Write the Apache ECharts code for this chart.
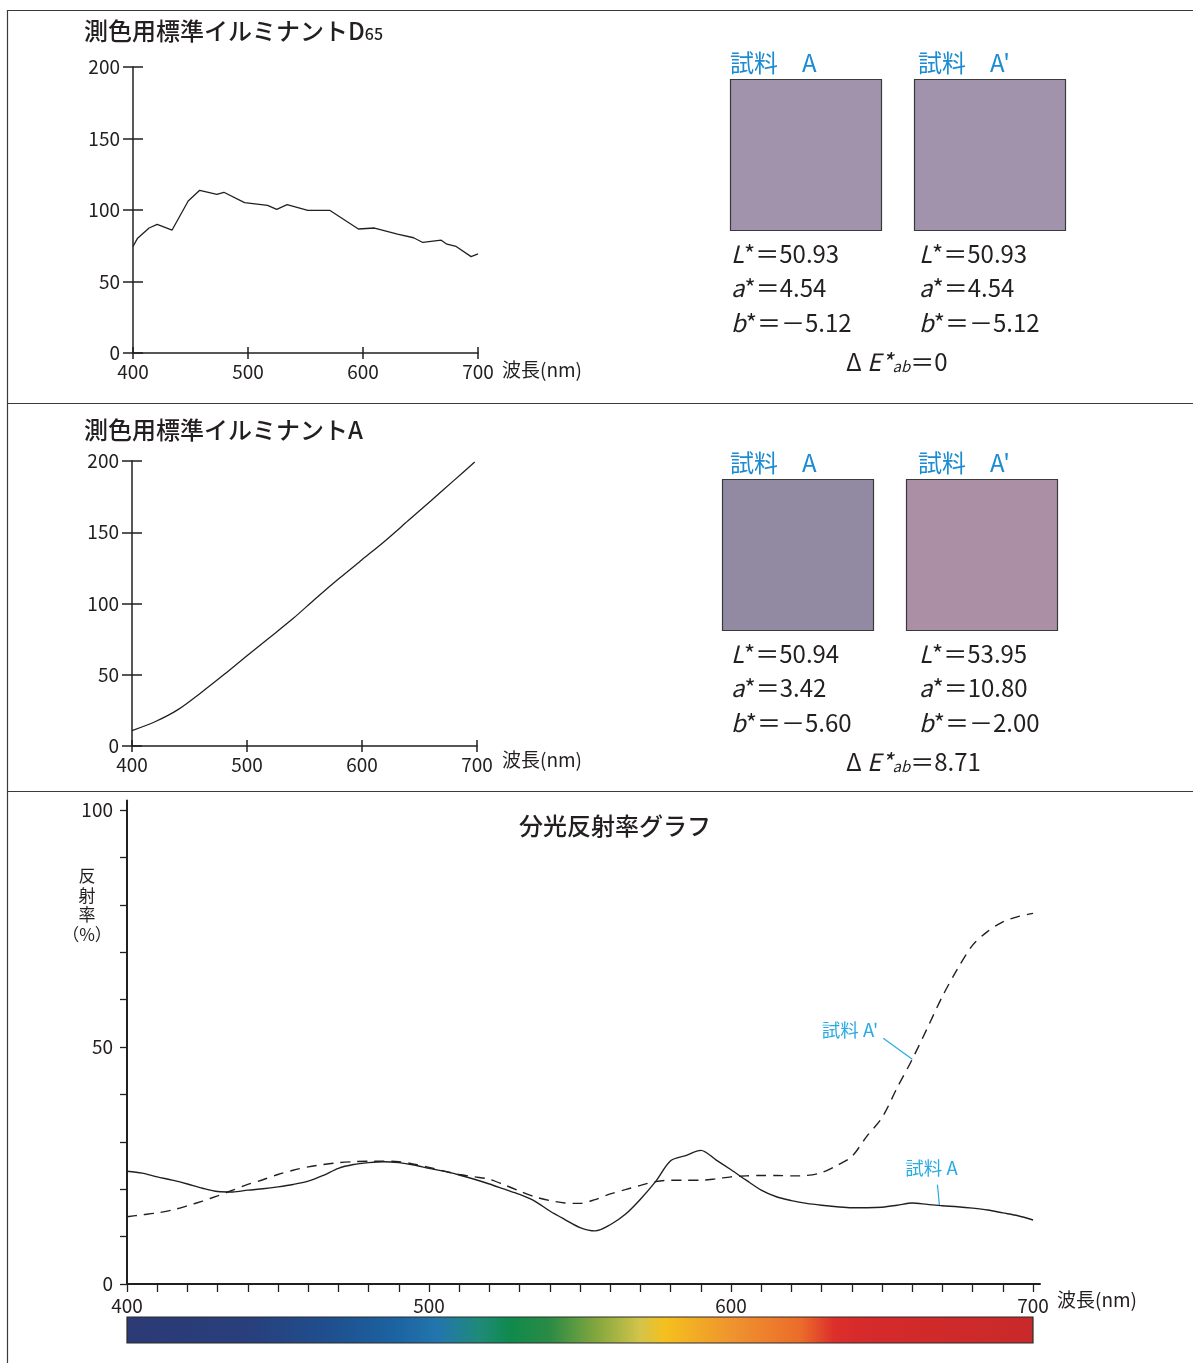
<!DOCTYPE html>
<html>
<head>
<meta charset="utf-8">
<script src="https://cdn.jsdelivr.net/npm/echarts@6/dist/echarts.min.js"></script>
<style>
  html, body { margin: 0; padding: 0; background: #fff; }
  #c { width: 1193px; height: 1363px; }
</style>
</head>
<body>
<div id="c"></div>
<script>
// 測色用標準イルミナント D65 の相対分光分布 [波長(nm), 相対値]
const d65Spd = [[400,74.5],[404,80.3],[414,87.4],[421,89.9],[434,86.0],[448,106.3],[458,113.8],[473,111.0],[479,112.4],[497,105.2],[517,103.3],[525,100.5],[534,103.7],[552,99.8],[571,99.8],[596,86.7],[610,87.4],[630,83.1],[644,80.6],[652,77.3],[668,78.9],[673,76.1],[681,74.5],[694,67.4],[700,69.3]];

// 測色用標準イルミナント A の相対分光分布
const illumASpd = [[400,10.8],[420,17.0],[440,25.5],[460,37.4],[480,50.1],[500,63.4],[520,76.3],[540,89.4],[560,103.7],[580,117.5],[600,130.7],[620,143.9],[640,158.0],[660,172.1],[680,186.4],[698,199.3]];

// 分光反射率 (%) : 5 nm 刻み
const wavelengths = [400,405,410,415,420,425,430,435,440,445,450,455,460,465,470,475,480,485,490,495,500,505,510,515,520,525,530,535,540,545,550,555,560,565,570,575,580,585,590,595,600,605,610,615,620,625,630,635,640,645,650,655,660,665,670,675,680,685,690,695,700];
const reflSampleA = [23.8,23.4,22.6,21.9,21.1,20.2,19.5,19.4,19.8,20.1,20.5,21.0,21.7,22.9,24.4,25.2,25.6,25.8,25.6,25.1,24.4,23.8,23.0,22.1,21.1,20.0,18.9,17.5,15.4,13.6,11.9,11.2,12.5,14.7,17.9,21.6,26.0,27.1,28.2,26.2,24.1,21.9,19.8,18.4,17.6,17.0,16.6,16.3,16.1,16.1,16.2,16.6,17.1,16.8,16.5,16.3,16.0,15.6,15.0,14.4,13.5];
const reflSampleA2 = [14.2,14.6,15.0,15.6,16.5,17.5,18.6,19.8,21.0,22.0,23.1,24.0,24.7,25.2,25.6,25.8,25.9,25.9,25.8,25.3,24.6,23.8,23.1,22.6,22.1,20.9,19.6,18.4,17.6,17.1,17.0,17.8,19.0,19.9,20.8,21.6,21.9,21.9,21.9,22.2,22.6,22.8,22.9,22.9,22.8,22.9,23.5,25.0,26.9,31.2,35.1,41.4,47.4,54.0,60.7,66.5,71.5,74.4,76.4,77.5,78.2];

// 軸の目盛り
const illumXTicks = [400,500,600,700];
const illumYTicks = [0,50,100,150,200];
const reflXTicks = [400,410,420,430,440,450,460,470,480,490,500,510,520,530,540,550,560,570,580,590,600,610,620,630,640,650,660,670,680,690,700];
const reflXLabels = [400,500,600,700];
const reflYTicks = [0,10,20,30,40,50,60,70,80,90,100];
const reflYLabels = [0,50,100];

// 試料名と CIELAB 値
const sampleNames = ['試料　A', '試料　A\''];
const d65L = ['50.93','50.93'];
const d65a = ['4.54','4.54'];
const d65b = ['－5.12','－5.12'];
const d65DeltaE = '0';
const illALabL = ['50.94','53.95'];
const illALabA = ['3.42','10.80'];
const illALabB = ['－5.60','－2.00'];
const illADeltaE = '8.71';

// 引き出し線を付ける波長
const leaderNames = ['試料 A\'', '試料 A'];
const leaderWavelengths = [660, 670];

// 可視スペクトル帯の色
const spectrumStops = [[400,'#2c3a75'],[440,'#283f7c'],[467,'#1f4f8e'],[490,'#1c64a3'],[503,'#2276ad'],[517,'#1f8a78'],[527,'#0f8a4c'],[540,'#2a8b45'],[556,'#86a83e'],[570,'#d4c44a'],[578,'#f5c01e'],[601,'#ef922f'],[623,'#eb6c2a'],[634,'#dc2f2c'],[643,'#d62a2b'],[700,'#c8292a']];

const FONT = '"Noto Sans CJK JP", "Noto Sans", sans-serif';
const INK = '#231f20';
const SWATCH_BLUE = '#1b8bd3';
const LABEL_CYAN = '#29abe2';
const swatchColors = [['#a093ab','#a093ab'],['#918aa2','#ab8fa5']];
const TITLE_WEIGHT = 500;

const chart = echarts.init(document.getElementById('c'), null, { renderer: 'canvas', width: 1193, height: 1363 });

function illumXAxis(gridIndex, inner) {
  return {
    gridIndex, type: 'value', min: 400, max: 700, interval: 100, position: 'bottom',
    axisLine: { show: !inner, lineStyle: { color: INK, width: 1.5 } },
    axisTick: { show: true, inside: inner, length: 6, lineStyle: { color: INK, width: 1.5 } },
    axisLabel: { show: !inner, margin: 9, color: INK, fontFamily: FONT, fontSize: 19 },
    splitLine: { show: false }
  };
}
function illumYAxis(gridIndex, inner) {
  return {
    gridIndex, type: 'value', min: 0, max: 200, interval: 50, position: 'left',
    axisLine: { show: !inner, lineStyle: { color: INK, width: 1.5 } },
    axisTick: { show: true, inside: inner, length: 10, lineStyle: { color: INK, width: 1.5 } },
    axisLabel: { show: !inner, margin: 13, color: INK, fontFamily: FONT, fontSize: 19 },
    splitLine: { show: false }
  };
}

const option = {
  animation: false,
  backgroundColor: '#fff',
  grid: [
    { left: 133, top: 67, width: 345, height: 286 },
    { left: 132, top: 461, width: 345, height: 285 },
    { left: 127, top: 800.5, width: 913, height: 483.5 },
    { left: 127, top: 1317, width: 906, height: 26 }
  ],
  xAxis: [
    illumXAxis(0, false), illumXAxis(0, true),
    illumXAxis(1, false), illumXAxis(1, true),
    {
      gridIndex: 2, type: 'value', min: 400, max: 702.3, position: 'bottom',
      axisLine: { lineStyle: { color: INK, width: 2 } },
      axisTick: { show: true, length: 8, customValues: reflXTicks, lineStyle: { color: INK, width: 1.3 } },
      axisLabel: { customValues: reflXLabels, margin: 12, color: INK, fontFamily: FONT, fontSize: 19 },
      splitLine: { show: false }
    },
    { gridIndex: 3, type: 'value', min: 400, max: 700, show: false }
  ],
  yAxis: [
    illumYAxis(0, false), illumYAxis(0, true),
    illumYAxis(1, false), illumYAxis(1, true),
    {
      gridIndex: 2, type: 'value', min: 0, max: 102, position: 'left',
      axisLine: { lineStyle: { color: INK, width: 2 } },
      axisTick: { show: true, length: 7, customValues: reflYTicks, lineStyle: { color: INK, width: 1.3 } },
      axisLabel: { customValues: reflYLabels, margin: 14, color: INK, fontFamily: FONT, fontSize: 19 },
      splitLine: { show: false }
    },
    { gridIndex: 3, type: 'value', min: 0, max: 1, show: false }
  ],
  series: [
    {
      name: 'D65', type: 'line', xAxisIndex: 0, yAxisIndex: 0, data: d65Spd,
      symbol: 'none', lineStyle: { color: INK, width: 1.3 }
    },
    {
      name: 'A', type: 'line', xAxisIndex: 2, yAxisIndex: 2, data: illumASpd,
      symbol: 'none', smooth: 0.3, lineStyle: { color: INK, width: 1.3 }
    },
    {
      name: '試料 A', type: 'line', xAxisIndex: 4, yAxisIndex: 4,
      data: wavelengths.map((w, i) => [w, reflSampleA[i]]),
      symbol: 'none', smooth: 0.3, lineStyle: { color: INK, width: 1.4 }
    },
    {
      name: '試料 A\'', type: 'line', xAxisIndex: 4, yAxisIndex: 4,
      data: wavelengths.map((w, i) => [w, reflSampleA2[i]]),
      symbol: 'none', smooth: 0.3, lineStyle: { color: INK, width: 1.4, type: [10, 7] }
    },
    {
      name: 'spectrum', type: 'custom', xAxisIndex: 5, yAxisIndex: 5,
      data: [[spectrumStops[0][0], spectrumStops[spectrumStops.length - 1][0]]],
      encode: { x: [0, 1] },
      renderItem: function (params, api) {
        const lo = api.value(0), hi = api.value(1);
        const p0 = api.coord([lo, 0]);
        const p1 = api.coord([hi, 1]);
        const stops = spectrumStops.map(s => ({ offset: (s[0] - lo) / (hi - lo), color: s[1] }));
        return {
          type: 'rect',
          shape: { x: p0[0], y: p1[1], width: p1[0] - p0[0], height: p0[1] - p1[1] },
          style: {
            fill: new echarts.graphic.LinearGradient(0, 0, 1, 0, stops),
            stroke: '#2a2a2a', lineWidth: 1.2
          }
        };
      }
    }
  ]
};
chart.setOption(option);

// ---- 説明用の図形と文字 ----
const g = [];
function line(x1, y1, x2, y2, color, w) {
  g.push({ type: 'line', shape: { x1, y1, x2, y2 }, style: { stroke: color, lineWidth: w }, silent: true });
}
function text(x, y, str, opt) {
  g.push({
    type: 'text', x, y, silent: true,
    style: Object.assign({ text: str, fill: INK, fontFamily: FONT, fontSize: 19, align: 'left', verticalAlign: 'middle' }, opt)
  });
}

// 外枠と区切り線
line(7.5, 10, 7.5, 1363, '#3a3a3a', 1.2);
line(7, 10.5, 1193, 10.5, '#3a3a3a', 1.2);
line(7, 403.5, 1193, 403.5, '#3a3a3a', 1.2);
line(7, 791.5, 1193, 791.5, '#3a3a3a', 1.2);

// 見出し
text(84, 31, '{a|測色用標準イルミナント}{b|D}{c|65}', {
  fontSize: 24, fontWeight: TITLE_WEIGHT,
  rich: {
    a: { fontSize: 24, fontWeight: TITLE_WEIGHT, fontFamily: FONT, fill: INK },
    b: { fontSize: 24, fontWeight: TITLE_WEIGHT, fontFamily: FONT, fill: INK },
    c: { fontSize: 16, fontWeight: TITLE_WEIGHT, fontFamily: FONT, fill: INK, padding: [5, 0, 0, 0] }
  }
});
text(84, 430, '測色用標準イルミナントA', { fontSize: 24, fontWeight: TITLE_WEIGHT });
text(615, 826, '分光反射率グラフ', { fontSize: 24, fontWeight: TITLE_WEIGHT, align: 'center' });

// 軸名
text(502, 370, '波長(nm)');
text(502, 760, '波長(nm)');
text(1057, 1300, '波長(nm)');
text(87, 866, '反\n射\n率\n（%）', { fontSize: 17, align: 'center', verticalAlign: 'top', lineHeight: 19.5 });

// 色見本と CIELAB 値
function labText(x, y, letter, value) {
  text(x, y, '{i|' + letter + '}{n|*＝' + value + '}', {
    fontSize: 24,
    rich: {
      i: { fontSize: 24, fontStyle: 'italic', fontFamily: FONT, fill: INK },
      n: { fontSize: 24, fontFamily: FONT, fill: INK }
    }
  });
}
function deltaText(x, y, value) {
  text(x, y, '{n|Δ }{i|E*}{s|ab}{n|＝' + value + '}', {
    fontSize: 24,
    rich: {
      n: { fontSize: 24, fontFamily: FONT, fill: INK },
      i: { fontSize: 24, fontStyle: 'italic', fontFamily: FONT, fill: INK },
      s: { fontSize: 15, fontStyle: 'italic', fontFamily: FONT, fill: INK, padding: [9, 0, 0, 0] }
    }
  });
}
const panels = [
  { dy: 0, swX: [730, 914], L: d65L, a: d65a, b: d65b, dE: d65DeltaE },
  { dy: 400, swX: [722, 906], L: illALabL, a: illALabA, b: illALabB, dE: illADeltaE }
];
const labelX = [730, 918];
const valueX = [731, 919];
panels.forEach((p, pi) => {
  for (let k = 0; k < 2; k++) {
    text(labelX[k], 63 + p.dy, sampleNames[k], { fontSize: 24, fill: SWATCH_BLUE });
    g.push({
      type: 'rect', silent: true,
      shape: { x: p.swX[k] + 0.5, y: 79.5 + p.dy, width: 151, height: 151 },
      style: { fill: swatchColors[pi][k], stroke: '#3a3a3a', lineWidth: 1.2 }
    });
    labText(valueX[k], 254 + p.dy, 'L', p.L[k]);
    labText(valueX[k], 288 + p.dy, 'a', p.a[k]);
    labText(valueX[k], 323 + p.dy, 'b', p.b[k]);
  }
  deltaText(846, 362 + p.dy, p.dE);
});

// 曲線への引き出し線
const leaderSeries = [reflSampleA2, reflSampleA];
leaderWavelengths.forEach((w, k) => {
  const idx = wavelengths.indexOf(w);
  const pt = chart.convertToPixel({ gridIndex: 2 }, [w, leaderSeries[k][idx]]);
  if (k === 0) {
    line(pt[0], pt[1], pt[0] - 29, pt[1] - 21, LABEL_CYAN, 1.2);
    text(pt[0] - 34, pt[1] - 29, leaderNames[k], { fontSize: 18.5, fill: LABEL_CYAN, align: 'right' });
  } else {
    line(pt[0] - 3, pt[1], pt[0] - 5, pt[1] - 21, LABEL_CYAN, 1.2);
    text(pt[0] - 11, pt[1] - 38, leaderNames[k], { fontSize: 18.5, fill: LABEL_CYAN, align: 'center' });
  }
});

chart.setOption({ graphic: g });
</script>
</body>
</html>
